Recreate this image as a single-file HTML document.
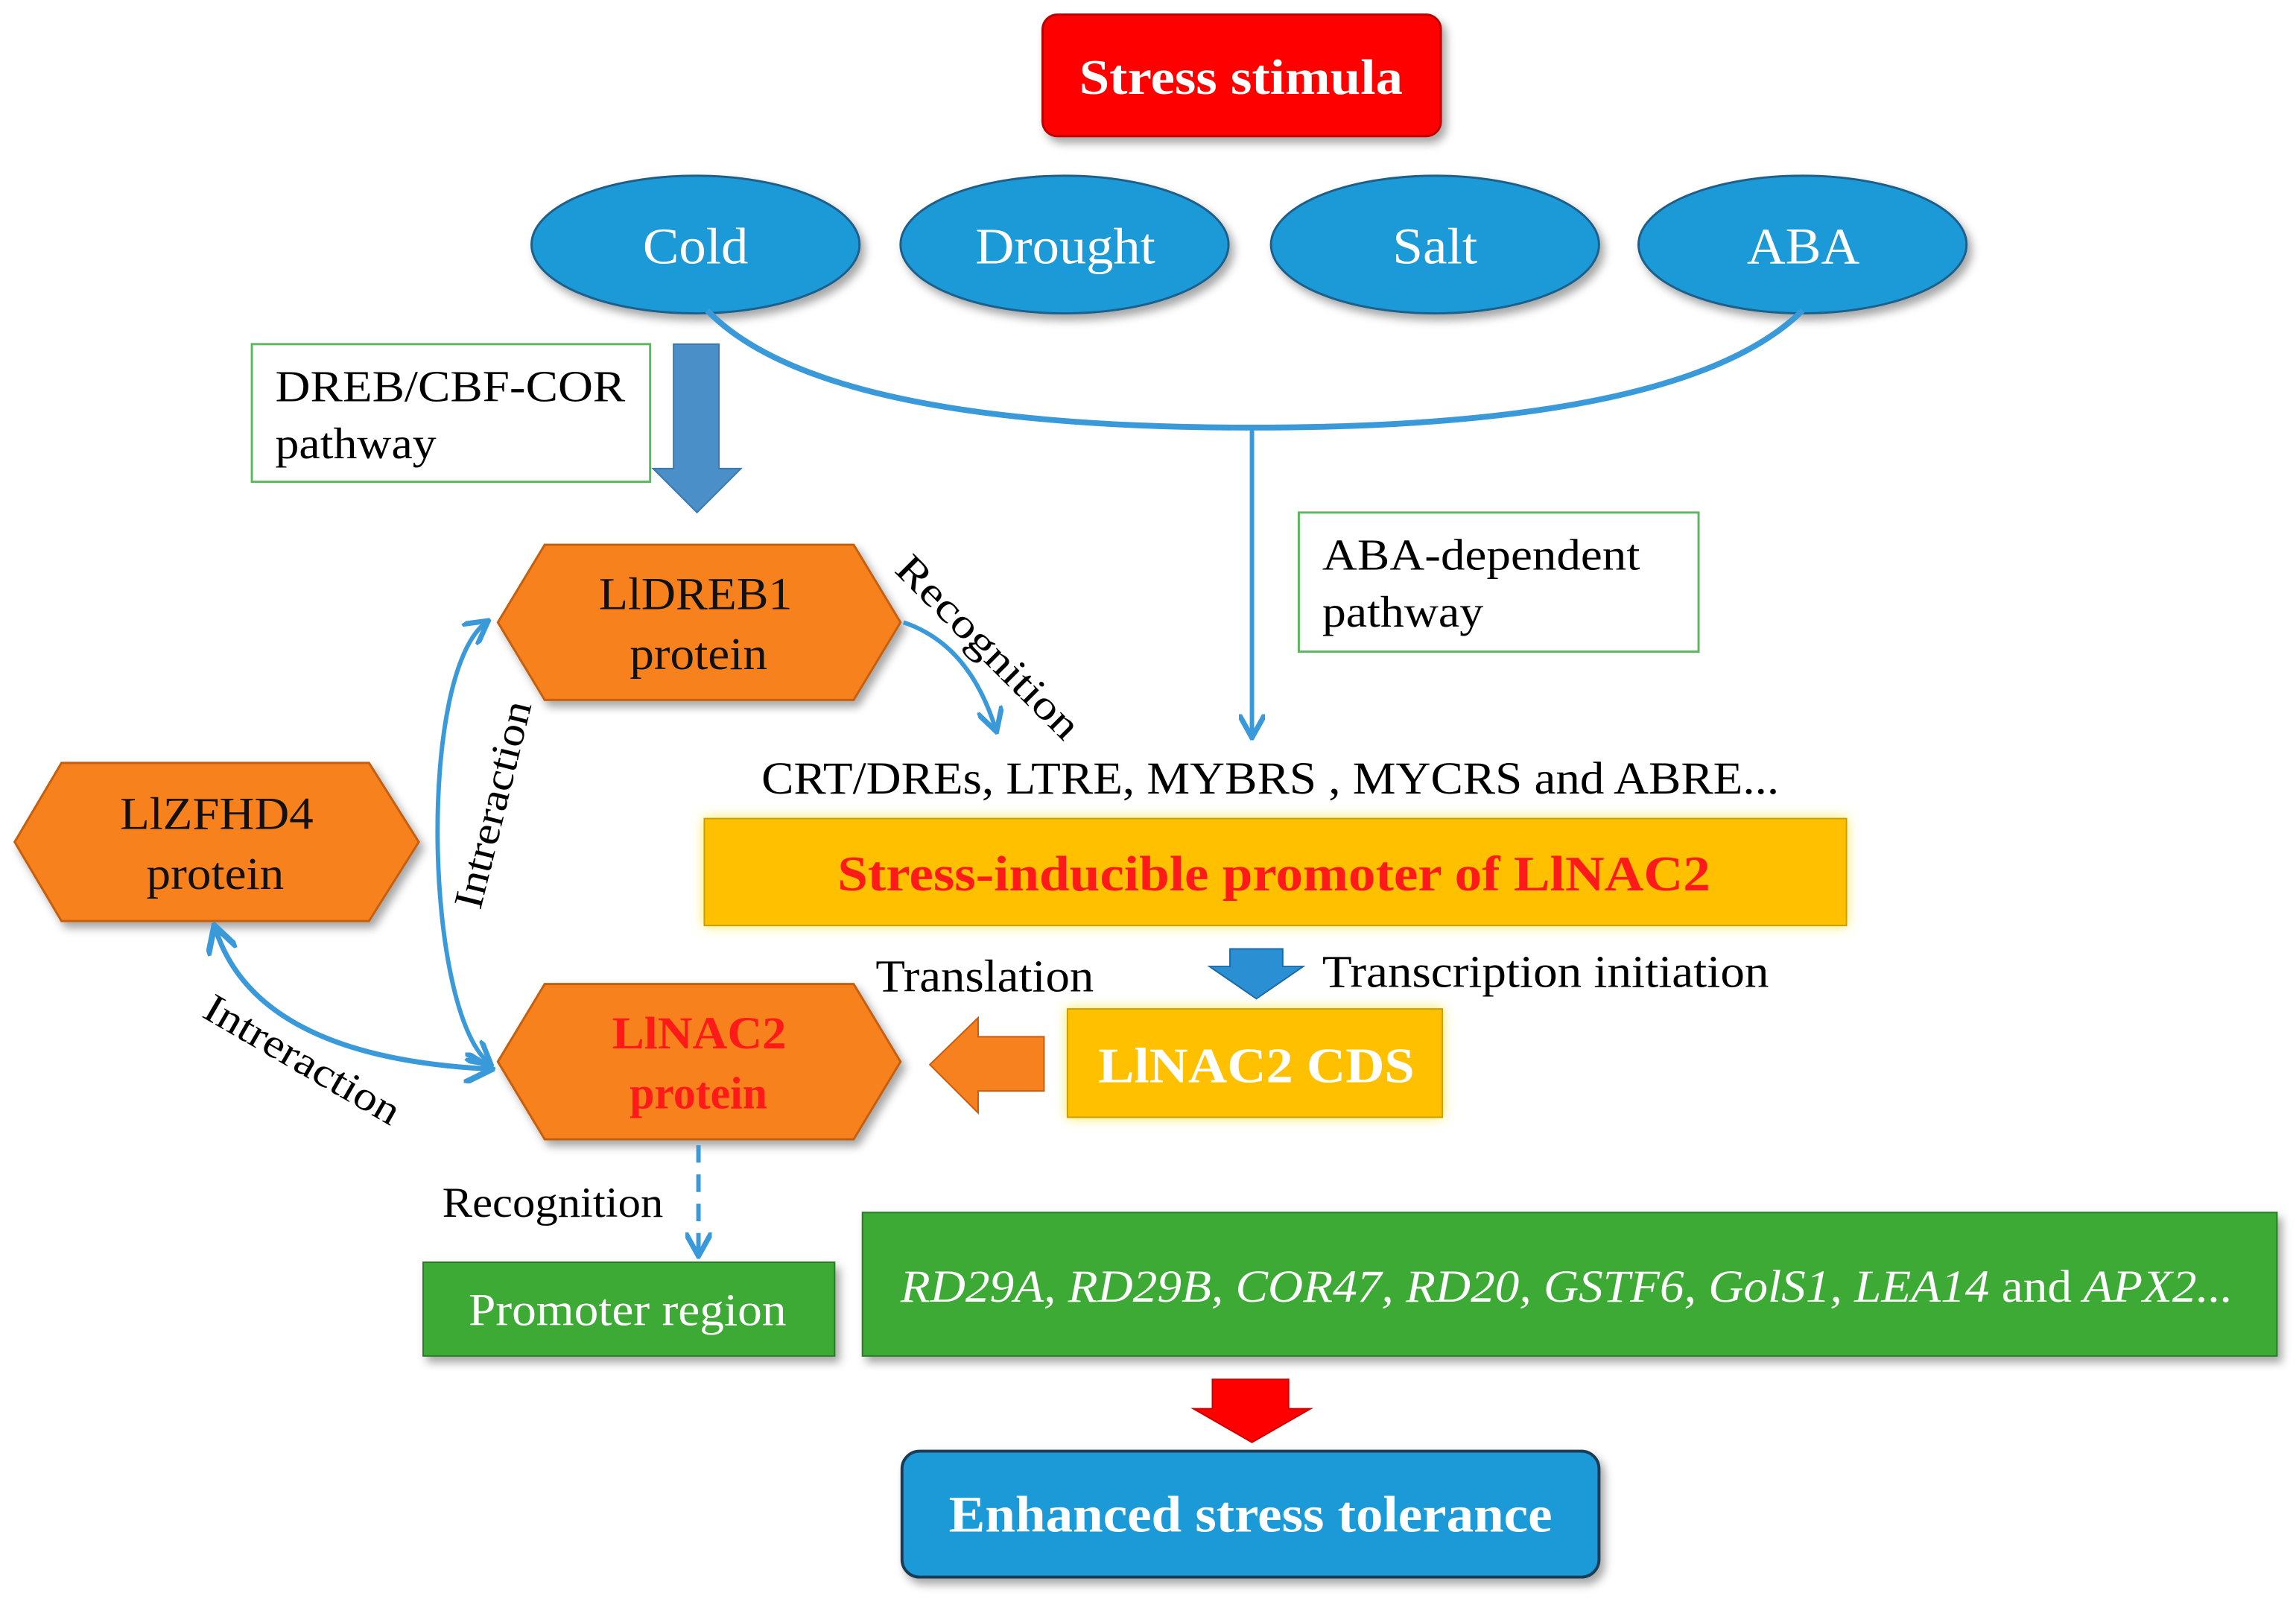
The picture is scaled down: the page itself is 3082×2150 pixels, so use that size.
<!DOCTYPE html>
<html><head><meta charset="utf-8"><style>
html,body{margin:0;padding:0;background:#fff;}
svg{display:block;}
text{font-family:"Liberation Serif",serif;}
</style></head><body>
<svg width="3082" height="2150" viewBox="0 0 1568 1094" preserveAspectRatio="none" xmlns="http://www.w3.org/2000/svg">
<defs>
<marker id="ah" viewBox="0 0 10 10" refX="8" refY="5" markerWidth="6" markerHeight="6" orient="auto-start-reverse">
<path d="M0,0 L9,5 L0,10" fill="none" stroke="#3a9ad9" stroke-width="2"/>
</marker>
<filter id="sh" x="-10%" y="-10%" width="130%" height="140%"><feDropShadow dx="3" dy="4" stdDeviation="3" flood-color="#000" flood-opacity="0.35"/></filter>
<filter id="glow" x="-5%" y="-20%" width="110%" height="140%"><feDropShadow dx="0" dy="0" stdDeviation="4" flood-color="#f5e84a" flood-opacity="0.9"/></filter>
</defs>

<rect x="712" y="10" width="272" height="83" rx="10" fill="#ff0000" stroke="#b00" stroke-width="1.5" filter="url(#sh)"/>
<text x="737" y="64" font-size="34" font-weight="bold" fill="#fff" textLength="221" lengthAdjust="spacingAndGlyphs">Stress stimula</text>

<g fill="#1b9ad8" stroke="#1d5f8a" stroke-width="1.5" filter="url(#sh)">
<ellipse cx="475" cy="167" rx="112" ry="47"/>
<ellipse cx="727" cy="167" rx="112" ry="47"/>
<ellipse cx="980" cy="167" rx="112" ry="47"/>
<ellipse cx="1231" cy="167" rx="112" ry="47"/>
</g>
<g font-size="35" fill="#fff">
<text x="439" y="180" textLength="72" lengthAdjust="spacingAndGlyphs">Cold</text>
<text x="666" y="180" textLength="123" lengthAdjust="spacingAndGlyphs">Drought</text>
<text x="951" y="180" textLength="58" lengthAdjust="spacingAndGlyphs">Salt</text>
<text x="1193" y="180" textLength="77" lengthAdjust="spacingAndGlyphs">ABA</text>
</g>

<path d="M483,212 Q560,292 855,292 Q1150,292 1231,212" fill="none" stroke="#3a9ad9" stroke-width="4"/>
<line x1="855" y1="292" x2="855" y2="502" stroke="#3a9ad9" stroke-width="3" marker-end="url(#ah)"/>

<rect x="172" y="235" width="272" height="94" fill="#fff" stroke="#5cb85c" stroke-width="1.5"/>
<text x="188" y="274" font-size="30" textLength="239" lengthAdjust="spacingAndGlyphs">DREB/CBF-COR</text>
<text x="188" y="313" font-size="30" textLength="110" lengthAdjust="spacingAndGlyphs">pathway</text>
<path d="M460,235 H491 V320 H506 L476,350 L446,320 H460 Z" fill="#4a8fc8" stroke="#3b78ad" stroke-width="1"/>

<rect x="887" y="350" width="273" height="95" fill="#fff" stroke="#5cb85c" stroke-width="1.5"/>
<text x="903" y="389" font-size="30" textLength="217" lengthAdjust="spacingAndGlyphs">ABA-dependent</text>
<text x="903" y="428" font-size="30" textLength="110" lengthAdjust="spacingAndGlyphs">pathway</text>

<g fill="#f7811f" stroke="#c65e10" stroke-width="1.5" filter="url(#sh)">
<polygon points="340,425 372,372 583,372 615,425 583,478 372,478"/>
<polygon points="10,575 42,521 252,521 286,575 252,629 42,629"/>
<polygon points="340,725 372,672 583,672 615,725 583,778 372,778"/>
</g>
<g font-size="31" fill="#111">
<text x="409" y="416" textLength="132" lengthAdjust="spacingAndGlyphs">LlDREB1</text>
<text x="430" y="457" textLength="94" lengthAdjust="spacingAndGlyphs">protein</text>
<text x="82" y="566" textLength="132" lengthAdjust="spacingAndGlyphs">LlZFHD4</text>
<text x="100" y="607" textLength="94" lengthAdjust="spacingAndGlyphs">protein</text>
</g>
<g font-size="31" fill="#ff1a1a" font-weight="bold">
<text x="418" y="716" textLength="119" lengthAdjust="spacingAndGlyphs">LlNAC2</text>
<text x="430" y="757" textLength="94" lengthAdjust="spacingAndGlyphs">protein</text>
</g>

<path d="M617,425 Q662,440 680,498" fill="none" stroke="#3a9ad9" stroke-width="3" marker-end="url(#ah)"/>
<text x="0" y="0" font-size="28" transform="translate(610,390) rotate(45)" textLength="165" lengthAdjust="spacingAndGlyphs">Recognition</text>

<text x="520" y="542" font-size="31" textLength="695" lengthAdjust="spacingAndGlyphs">CRT/DREs, LTRE, MYBRS , MYCRS and ABRE...</text>
<rect x="481" y="559" width="780" height="73" fill="#ffc000" stroke="#c9a000" stroke-width="1" filter="url(#glow)"/>
<text x="572" y="608" font-size="34" font-weight="bold" fill="#ff1a1a" textLength="596" lengthAdjust="spacingAndGlyphs">Stress-inducible promoter of LlNAC2</text>

<path d="M334,726 C290,690 285,460 332,425" fill="none" stroke="#3a9ad9" stroke-width="3" marker-start="url(#ah)" marker-end="url(#ah)"/>
<text x="0" y="0" font-size="28" transform="translate(328,622) rotate(-76)" textLength="145" lengthAdjust="spacingAndGlyphs">Intreraction</text>

<path d="M147,634 Q175,722 334,730" fill="none" stroke="#3a9ad9" stroke-width="3.5" marker-start="url(#ah)" marker-end="url(#ah)"/>
<text x="0" y="0" font-size="28" transform="translate(137,694) rotate(30)" textLength="150" lengthAdjust="spacingAndGlyphs">Intreraction</text>

<path d="M840,648 H876 V660 H890 L858,682 L826,660 H840 Z" fill="#2b8fd4" stroke="#1d6aa3" stroke-width="1"/>
<text x="903" y="674" font-size="31" textLength="305" lengthAdjust="spacingAndGlyphs">Transcription initiation</text>
<text x="598" y="677" font-size="31" textLength="149" lengthAdjust="spacingAndGlyphs">Translation</text>

<rect x="729" y="689" width="256" height="74" fill="#ffc000" stroke="#c9a000" stroke-width="1" filter="url(#glow)"/>
<text x="750" y="739" font-size="34" font-weight="bold" fill="#fff" textLength="216" lengthAdjust="spacingAndGlyphs">LlNAC2 CDS</text>
<path d="M713,708 V745 H668 V760 L635,727 L668,695 V708 Z" fill="#f7811f" stroke="#c65e10" stroke-width="1"/>

<line x1="477" y1="782" x2="477" y2="856" stroke="#3a9ad9" stroke-width="3" stroke-dasharray="12,8" marker-end="url(#ah)"/>
<text x="302" y="831" font-size="29" textLength="151" lengthAdjust="spacingAndGlyphs">Recognition</text>

<rect x="289" y="862" width="281" height="64" fill="#3daa35" stroke="#2a7a25" stroke-width="1" filter="url(#sh)"/>
<text x="320" y="905" font-size="31" fill="#fff" textLength="217" lengthAdjust="spacingAndGlyphs">Promoter region</text>
<rect x="589" y="828" width="966" height="98" fill="#3daa35" stroke="#2a7a25" stroke-width="1" filter="url(#sh)"/>
<text x="615" y="889" font-size="31" fill="#fff" font-style="italic" textLength="910" lengthAdjust="spacingAndGlyphs">RD29A, RD29B, COR47, RD20, GSTF6, GolS1, LEA14 <tspan font-style="normal">and</tspan> APX2...</text>

<path d="M828,942 H880 V962 H895 L855,985 L815,962 H828 Z" fill="#ff0000" stroke="#c00" stroke-width="1"/>
<rect x="616" y="991" width="476" height="86" rx="12" fill="#1b9ad8" stroke="#1a3a55" stroke-width="2" filter="url(#sh)"/>
<text x="648" y="1046" font-size="35" font-weight="bold" fill="#fff" textLength="412" lengthAdjust="spacingAndGlyphs">Enhanced stress tolerance</text>
</svg>
</body></html>
